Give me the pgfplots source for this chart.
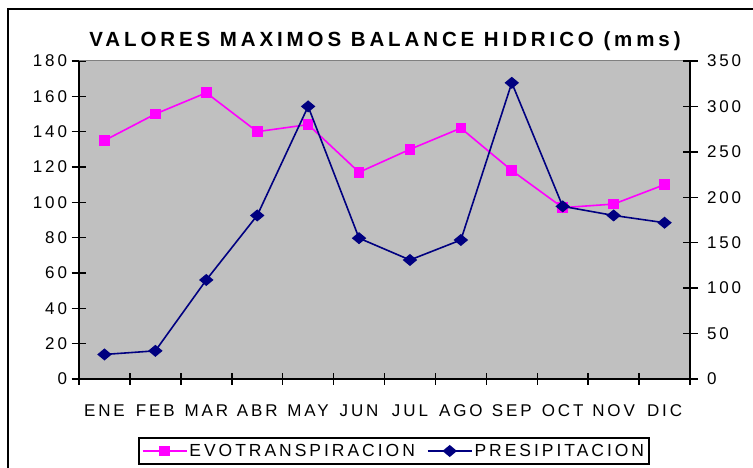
\documentclass[border=0pt]{standalone}
\usepackage{pgfplots}
\pgfplotsset{compat=1.18}
\usepackage{fontspec}
\setmainfont{Liberation Sans}
\newfontfamily\lbl[LetterSpace=17]{Liberation Sans}
\newfontfamily\ttl[LetterSpace=19]{Liberation Sans}
\definecolor{bgc}{HTML}{C0C0C0}
\definecolor{evo}{HTML}{FF00FF}
\definecolor{pres}{HTML}{000080}
\definecolor{topc}{HTML}{808080}
\begin{document}
\begin{tikzpicture}[x=1pt,y=1pt]
\useasboundingbox (0,0) rectangle (753,468);
\draw[line width=2pt] (8,-20) -- (8,459) -- (800,459);
\node[anchor=base,font=\ttl\bfseries\fontsize{20.5}{24}\selectfont] at (385,421) {VALORES MAXIMOS BALANCE HIDRICO (mms)};
\begin{axis}[
  at={(79pt,89pt)}, anchor=south west, scale only axis,
  width=611pt, height=318pt,
  xmin=-0.5, xmax=11.5, ymin=0, ymax=180,
  axis x line*=bottom, axis y line*=left,
  axis line style={line width=1.5pt,-},
  axis background/.style={fill=bgc},
  xtick={0,...,11},
  xticklabels={ENE,FEB,MAR,ABR,MAY,JUN,JUL,AGO,SEP,OCT,NOV,DIC},
  minor xtick={-0.5,0.5,...,11.5},
  ytick={0,20,...,180},
  tick align=center, major tick length=15pt, minor tick length=12pt,
  tick style={line width=1.5pt,black},
  every major x tick/.append style={draw=none},
  ticklabel style={font=\lbl\fontsize{17}{20}\selectfont},
  yticklabel style={xshift=-1pt},
  /pgf/number format/assume math mode=true,
  xticklabel style={yshift=-15pt},
  clip=false,
]
\draw[topc, line width=1pt] (rel axis cs:0,1) -- (rel axis cs:1,1);
\addplot[evo, line width=1.6pt, mark=square*, mark size=4.5pt, mark options={fill=evo}]
  coordinates {(0,135) (1,150) (2,162) (3,140) (4,144) (5,117) (6,130) (7,142) (8,118) (9,97) (10,99) (11,110)};
\end{axis}
\begin{axis}[
  at={(79pt,89pt)}, anchor=south west, scale only axis,
  width=611pt, height=318pt,
  xmin=-0.5, xmax=11.5, ymin=0, ymax=350,
  axis x line=none, axis y line*=right,
  axis line style={line width=1.5pt,-},
  ytick={0,50,...,350},
  tick align=center, major tick length=15pt,
  tick style={line width=1.5pt,black},
  ticklabel style={font=\lbl\fontsize{17}{20}\selectfont},
  yticklabel style={xshift=6pt},
  /pgf/number format/assume math mode=true,
  clip=false,
  legend style={at={(0.5155,-0.2264)}, anchor=center, draw=black, line width=1.5pt, fill=white,
    font=\lbl\fontsize{17.5}{20}\selectfont, inner xsep=3pt, inner ysep=4pt,
    /tikz/every even column/.append style={column sep=10pt}},
  legend columns=2,
  legend image code/.code={\draw[mark repeat=2,mark phase=2] plot coordinates {(0pt,0pt) (22pt,0pt) (44pt,0pt)};},
]
\addlegendimage{evo, line width=1.6pt, mark=square*, mark size=4.5pt, mark options={fill=evo}}
\addlegendentry{EVOTRANSPIRACION}
\addplot[pres, line width=1.6pt, mark=diamond*, mark size=5pt, mark options={fill=pres, xscale=1.6}]
  coordinates {(0,27) (1,31) (2,109) (3,180) (4,300) (5,155) (6,131) (7,153) (8,326) (9,190) (10,180) (11,172)};
\addlegendentry{PRESIPITACION}
\end{axis}
\end{tikzpicture}
\end{document}
